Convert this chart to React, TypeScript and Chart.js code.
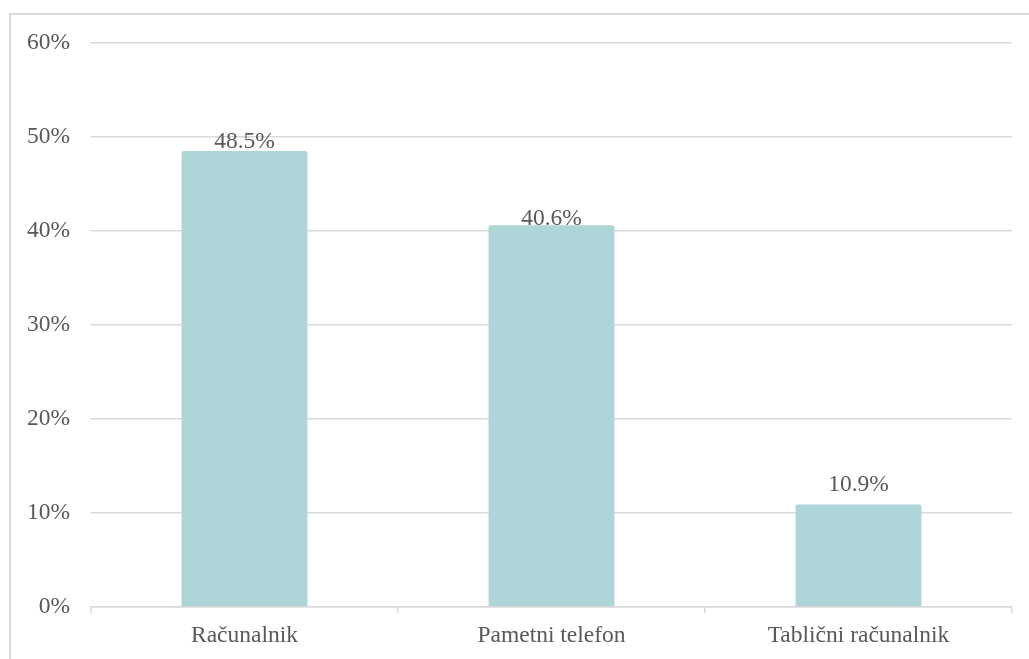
import React, { useEffect, useRef } from "react";
import { Chart, registerables } from "chart.js";

Chart.register(...registerables);

const categories = ["Računalnik", "Pametni telefon", "Tablični računalnik"];
const values = [48.5, 40.6, 10.9];
const yTicks = [0, 10, 20, 30, 40, 50, 60];

const FONT = "'Liberation Serif', 'Times New Roman', serif";
const TEXT = "#595959";
const GRID = "#d9d9d9";
const LABEL_GAPS = [3, 0, 14];

const labelPlugin = {
  id: "barLabels",
  afterDatasetsDraw(chart: any) {
    const ctx = chart.ctx;
    const meta = chart.getDatasetMeta(0);
    ctx.save();
    ctx.font = `23.5px ${FONT}`;
    ctx.fillStyle = TEXT;
    ctx.textAlign = "center";
    ctx.textBaseline = "alphabetic";
    meta.data.forEach((bar: any, i: number) => {
      ctx.fillText(values[i].toFixed(1) + "%", bar.x, bar.y - LABEL_GAPS[i]);
    });
    ctx.restore();
  },
};

export default function App() {
  const ref = useRef<HTMLCanvasElement>(null);
  useEffect(() => {
    if (!ref.current) return;
    const chart = new Chart(ref.current, {
      type: "bar",
      data: {
        labels: categories,
        datasets: [
          {
            data: values,
            backgroundColor: "#aed5d8",
            borderRadius: 2,
            barPercentage: 0.41,
            categoryPercentage: 1,
          },
        ],
      },
      options: {
        responsive: false,
        animation: false,
        layout: { padding: { top: 43, right: 17, left: 0, bottom: 0 } },
        plugins: { legend: { display: false }, tooltip: { enabled: false } },
        scales: {
          x: {
            grid: {
              display: true,
              drawOnChartArea: false,
              drawTicks: true,
              tickLength: 6,
              color: GRID,
              lineWidth: 1.5,
              offset: true,
            },
            border: { display: true, color: GRID, width: 1.5 },
            ticks: { color: TEXT, font: { family: FONT, size: 23.5 }, padding: 9 },
            afterFit: (s: any) => {
              s.height = 52;
            },
          },
          y: {
            min: 0,
            max: 60,
            afterBuildTicks: (s: any) => {
              s.ticks = yTicks.map((v) => ({ value: v }));
            },
            grid: { color: GRID, lineWidth: 1.5, drawTicks: false },
            border: { display: false },
            ticks: {
              color: TEXT,
              font: { family: FONT, size: 23.5 },
              padding: 21,
              callback: (v: any) => v + "%",
            },
            afterFit: (s: any) => {
              s.width = 91;
            },
          },
        },
      },
      plugins: [labelPlugin],
    });
    return () => chart.destroy();
  }, []);
  return (
    <>
      <div
        style={{
          position: "absolute",
          left: 9,
          top: 13,
          width: 1040,
          height: 680,
          border: `2px solid ${GRID}`,
          boxSizing: "border-box",
        }}
      />
      <canvas
        ref={ref}
        width={1029}
        height={659}
        style={{ position: "absolute", left: 0, top: 0, width: 1029, height: 659 }}
      />
    </>
  );
}
